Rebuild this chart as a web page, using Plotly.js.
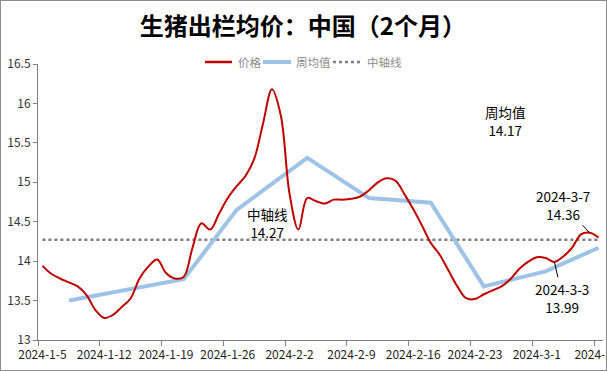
<!DOCTYPE html>
<html>
<head>
<meta charset="utf-8">
<script src="https://cdn.plot.ly/plotly-3.0.1.min.js"></script>
<style>
html,body{margin:0;padding:0;background:#fff;}
#wrap{position:relative;width:607px;height:371px;}
#chart{width:607px;height:371px;}
#frame{position:absolute;left:0;top:0;width:607px;height:371px;box-sizing:border-box;border:1px solid #8c8c8c;pointer-events:none;}
</style>
</head>
<body>
<div id="wrap"><div id="chart"></div><div id="frame"></div></div>
<script>
const dates = [
 "2024-1-5","2024-1-6","2024-1-7","2024-1-8","2024-1-9","2024-1-10","2024-1-11",
 "2024-1-12","2024-1-13","2024-1-14","2024-1-15","2024-1-16","2024-1-17","2024-1-18",
 "2024-1-19","2024-1-20","2024-1-21","2024-1-22","2024-1-23","2024-1-24","2024-1-25",
 "2024-1-26","2024-1-27","2024-1-28","2024-1-29","2024-1-30","2024-1-31","2024-2-1",
 "2024-2-2","2024-2-3","2024-2-4","2024-2-5","2024-2-6","2024-2-7","2024-2-8",
 "2024-2-9","2024-2-10","2024-2-11","2024-2-12","2024-2-13","2024-2-14","2024-2-15",
 "2024-2-16","2024-2-17","2024-2-18","2024-2-19","2024-2-20","2024-2-21","2024-2-22",
 "2024-2-23","2024-2-24","2024-2-25","2024-2-26","2024-2-27","2024-2-28","2024-2-29",
 "2024-3-1","2024-3-2","2024-3-3","2024-3-4","2024-3-5","2024-3-6","2024-3-7","2024-3-8"
];
const price = [
 13.94,13.84,13.78,13.73,13.68,13.57,13.38,
 13.28,13.32,13.42,13.53,13.78,13.93,14.02,
 13.85,13.78,13.80,14.17,14.48,14.40,14.60,
 14.80,14.95,15.08,15.30,15.75,16.18,15.85,
 14.85,14.40,14.80,14.76,14.73,14.78,14.78,
 14.79,14.82,14.90,15.00,15.05,15.02,14.85,
 14.66,14.45,14.23,14.08,13.88,13.68,13.53,
 13.52,13.58,13.63,13.68,13.77,13.90,13.99,
 14.05,14.04,13.99,14.06,14.17,14.34,14.36,14.30
];
const weekDates = ["2024-1-8","2024-1-21","2024-1-27","2024-2-4","2024-2-11","2024-2-18","2024-2-24","2024-3-2","2024-3-8"];
const weekAvg  = [13.50,13.77,14.65,15.31,14.80,14.74,13.68,13.87,14.17];
const midValue = 14.27;
const midLine = dates.map(() => midValue);
const seriesNames = ['价格', '周均值', '中轴线'];
const seriesColors = ['#c00000', '#9dc3e6', '#7f7f7f'];

const cjk = '"Noto Sans CJK SC", "Noto Sans", sans-serif';

const traces = [
  {x: dates, y: midLine, type: 'scatter', mode: 'lines', name: seriesNames[2],
   line: {color: seriesColors[2], width: 2.5, dash: 'dot'}},
  {x: weekDates, y: weekAvg, type: 'scatter', mode: 'lines', name: seriesNames[1],
   line: {color: seriesColors[1], width: 4}},
  {x: dates, y: price, type: 'scatter', mode: 'lines', name: seriesNames[0],
   line: {color: seriesColors[0], width: 2, shape: 'spline', smoothing: 1}}
];

// plot area in pixels (for legend placement in paper coordinates)
const M = {l: 38, r: 4, t: 64, b: 31};
const PW = 607 - M.l - M.r, PH = 371 - M.t - M.b;
const px = v => (v - M.l) / PW;
const py = v => (371 - M.b - v) / PH;

const legendY = 62;
const legendItems = [
  {x0: 205, x1: 232, tx: 236, width: 2.5, dash: 'solid'},
  {x0: 263, x1: 291, tx: 294, width: 4, dash: 'solid'},
  {x0: 333, x1: 360, tx: 365, width: 2.5, dash: 'dot'}
];
const shapes = legendItems.map((it, i) => ({
  type: 'line', xref: 'paper', yref: 'paper', x0: px(it.x0), x1: px(it.x1), y0: py(legendY), y1: py(legendY),
  line: {color: seriesColors[i], width: it.width, dash: it.dash}
}));
const legendTexts = legendItems.map((it, i) => ({
  xref: 'paper', yref: 'paper', x: px(it.tx), y: py(legendY), xanchor: 'left', yanchor: 'middle',
  text: seriesNames[i], showarrow: false, font: {family: cjk, size: 11.5, color: '#8c8c8c'}
}));

const annFont = {family: cjk, size: 13.5, color: '#000'};
const layout = {
  width: 607, height: 371,
  margin: {l: M.l, r: M.r, t: M.t, b: M.b, pad: 0},
  paper_bgcolor: '#fff', plot_bgcolor: '#fff',
  title: {text: '<b>生猪出栏均价：中国（2个月）</b>', x: 0.499, xanchor: 'center', y: 0.927, yanchor: 'middle',
          font: {family: cjk, size: 24, color: '#000'}},
  showlegend: false,
  xaxis: {type: 'category', categoryorder: 'array', categoryarray: dates,
          range: [-0.5, dates.length - 0.5], tickson: 'boundaries', dtick: 7, tick0: 0, tickangle: 0,
          ticks: 'outside', ticklen: 5, tickcolor: '#808080', tickwidth: 1, ticklabelstandoff: 4,
          showline: true, linecolor: '#808080', linewidth: 1, showgrid: false, zeroline: false,
          tickfont: {family: cjk, size: 12, color: '#222'}, ticklabeloverflow: 'allow'},
  yaxis: {range: [13, 16.5], tickvals: [13, 13.5, 14, 14.5, 15, 15.5, 16, 16.5],
          ticktext: ['13', '13.5', '14', '14.5', '15', '15.5', '16', '16.5'],
          ticks: 'outside', ticklen: 4, tickcolor: '#808080', tickwidth: 1,
          showline: true, linecolor: '#808080', linewidth: 1, showgrid: false, zeroline: false,
          tickfont: {family: cjk, size: 12, color: '#333'}},
  shapes: shapes,
  annotations: legendTexts.concat([
    {x: 25.5, y: 14.49, xref: 'x', yref: 'y', text: '中轴线<br>14.27', showarrow: false,
     font: annFont, align: 'center'},
    {x: 52.4, y: 15.78, xref: 'x', yref: 'y', text: '周均值<br>14.17', showarrow: false,
     font: annFont, align: 'center'},
    {x: '2024-3-7', y: 14.36, xref: 'x', yref: 'y', text: '2024-3-7<br>14.36', showarrow: true,
     arrowhead: 0, arrowwidth: 1, arrowcolor: '#000', ax: -27, ay: -28, font: annFont, align: 'center'},
    {x: '2024-3-3', y: 13.99, xref: 'x', yref: 'y', text: '2024-3-3<br>13.99', showarrow: true,
     arrowhead: 0, arrowwidth: 1, arrowcolor: '#000', ax: 8, ay: 36, font: annFont, align: 'center'}
  ])
};

Plotly.newPlot('chart', traces, layout, {staticPlot: true, displayModeBar: false});
</script>
</body>
</html>
